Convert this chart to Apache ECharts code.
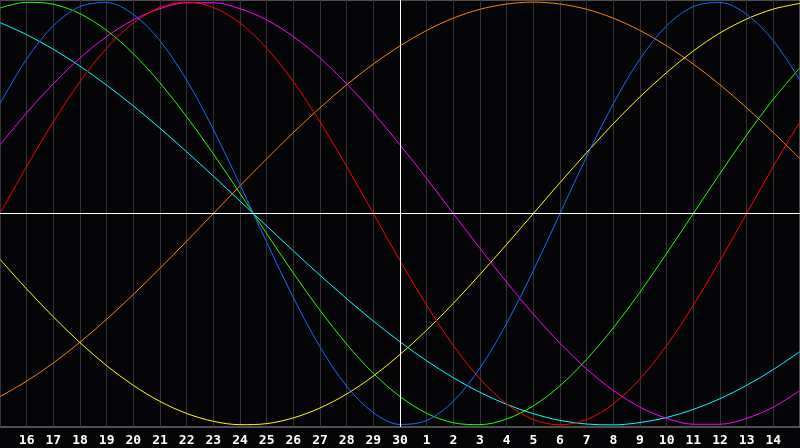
<!DOCTYPE html>
<html>
<head>
<meta charset="utf-8">
<script src="https://cdn.jsdelivr.net/npm/echarts@6/dist/echarts.min.js"></script>
<style>
html,body{margin:0;padding:0;background:#050508;}
#chart{width:800px;height:448px;}
</style>
</head>
<body>
<div id="chart"></div>
<script>
// Day labels: from the 15th (left edge) to the 15th of the next month (right edge)
var days = ["15","16","17","18","19","20","21","22","23","24","25","26","27","28","29","30",
            "1","2","3","4","5","6","7","8","9","10","11","12","13","14","15"];
var todayLabel = "30";

var red = [0,22.3,43.4,62.4,78.2,90.1,97.5,100,97.5,90.1,78.2,62.4,43.4,22.3,0,-22.3,-43.4,-62.4,-78.2,-90.1,-97.5,-100,-97.5,-90.1,-78.2,-62.4,-43.4,-22.3,0,22.3,43.4];
var blue = [52.0,73.1,88.8,97.9,99.8,94.2,81.7,63.1,39.8,13.6,-13.6,-39.8,-63.1,-81.7,-94.2,-99.8,-97.9,-88.8,-73.1,-52.0,-27.0,0,27.0,52.0,73.1,88.8,97.9,99.8,94.2,81.7,63.1];
var green = [97.2,99.9,99.0,94.5,86.6,75.6,61.8,45.8,28.2,9.5,-9.5,-28.2,-45.8,-61.8,-75.6,-86.6,-94.5,-99.0,-99.9,-97.2,-91.0,-81.5,-69.0,-54.1,-37.2,-18.9,0,18.9,37.2,54.1,69.0];
var magenta = [32.5,47.6,61.4,73.6,83.7,91.6,96.9,99.7,99.7,96.9,91.6,83.7,73.6,61.4,47.6,32.5,16.5,0,-16.5,-32.5,-47.6,-61.4,-73.6,-83.7,-91.6,-96.9,-99.7,-99.7,-96.9,-91.6,-83.7];
var cyan = [90.3,84.6,77.7,69.7,60.7,50.9,40.3,29.2,17.7,5.9,-5.9,-17.7,-29.2,-40.3,-50.9,-60.7,-69.7,-77.7,-84.6,-90.3,-94.7,-97.9,-99.6,-100,-98.9,-96.5,-92.7,-87.6,-81.3,-73.8,-65.3];
var yellow = [-21.7,-35.7,-48.9,-61.1,-72.0,-81.3,-88.9,-94.6,-98.3,-99.9,-99.4,-96.7,-92.0,-85.4,-76.9,-66.7,-55.2,-42.5,-28.8,-14.6,0,14.6,28.8,42.5,55.2,66.7,76.9,85.4,92.0,96.7,99.4];
var orange = [-86.6,-79.3,-70.7,-60.9,-50.0,-38.3,-25.9,-13.1,0,13.1,25.9,38.3,50.0,60.9,70.7,79.3,86.6,92.4,96.6,99.1,100,99.1,96.6,92.4,86.6,79.3,70.7,60.9,50.0,38.3,25.9];

var seriesDefs = [
  {name:"orange", data:orange, color:"#ff8000"},
  {name:"yellow", data:yellow, color:"#ffff00"},
  {name:"cyan", data:cyan, color:"#00ffff"},
  {name:"magenta", data:magenta, color:"#ff00ff"},
  {name:"green", data:green, color:"#22ff00"},
  {name:"red", data:red, color:"#ff0000"},
  {name:"blue", data:blue, color:"#1a6aff"}
];

var chart = echarts.init(document.getElementById('chart'), null, {renderer:'canvas'});

var series = seriesDefs.map(function(s){
  return {
    name:s.name, type:'line', data:s.data, smooth:0.33, symbol:'none',
    lineStyle:{color:s.color, width:1}, z:3, silent:true
  };
});
// reference lines (zero line and today's line)
series.push({
  type:'line', data:[], silent:true, z:2,
  markLine:{
    silent:true, symbol:'none', label:{show:false},
    lineStyle:{color:'#ffffff', width:1, type:'solid'},
    animation:false,
    data:[{yAxis:0},{xAxis:todayLabel}]
  }
});

var lastIdx = days.length - 1;
chart.setOption({
  animation:false,
  backgroundColor:'#050508',
  grid:{left:0, right:0, top:0, bottom:21, containLabel:false, outerBoundsMode:'none',
        show:true, borderColor:'#9a9a9a', borderWidth:1, backgroundColor:'transparent'},
  xAxis:{
    type:'category', data:days, boundaryGap:false,
    axisLine:{show:false}, axisTick:{show:false},
    splitLine:{show:true, interval:0, lineStyle:{color:'#333336', width:1}},
    axisLabel:{
      interval:0, color:'#ffffff',
      fontFamily:'DejaVu Sans Mono', fontWeight:'bold', fontSize:13, margin:7,
      formatter:function(v, i){ return (i === 0 || i === lastIdx) ? '' : v; }
    }
  },
  yAxis:{
    type:'value', min:-101, max:101, show:false,
    splitLine:{show:false}
  },
  series:series
});
</script>
</body>
</html>
